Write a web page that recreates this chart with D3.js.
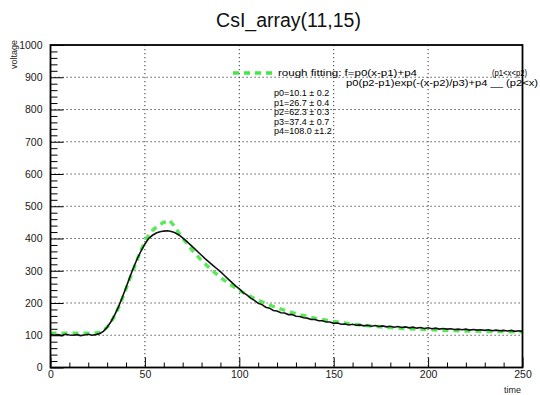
<!DOCTYPE html>
<html><head><meta charset="utf-8">
<script src="https://cdn.jsdelivr.net/npm/d3@7/dist/d3.min.js"></script>
<style>
html,body{margin:0;padding:0;background:#fff;}
svg{display:block;font-family:"Liberation Sans",Arial,Helvetica,sans-serif;}
</style></head>
<body><svg id="c" width="540" height="395"></svg>
<script>
// ---- data ----
const sampleTimes = [0,2,4,6,8,10,12,14,16,18,20,22,24,26,28,30,32,34,36,38,40,42,44,46,48,50,52,54,56,58,60,62,64,66,68,70,72,74,76,78,80,82,84,86,88,90,92,94,96,98,100,102,104,106,108,110,112,114,116,118,120,122,124,126,128,130,132,134,136,138,140,142,144,146,148,150,152,154,156,158,160,162,164,166,168,170,172,174,176,178,180,182,184,186,188,190,192,194,196,198,200,202,204,206,208,210,212,214,216,218,220,222,224,226,228,230,232,234,236,238,240,242,244,246,248,250];
const voltageValues = [103,100,102,99,103,101,100,102,99,101,103,100,102,105,112,125,142,163,188,217,248,280,310,338,362,383,400,410,417,421,423,424,422,418,411,402,392,381,370,359,348,337,327,317,307,297,286,275,264,253,244,232,225,215,208,199,195,187,184,177,175,170,169,164,164,159,158,154,153,149,149,145,145,141,141,137,138,134,135,132,134,131,132,129,131,128,130,127,129,126,128,125,127,124,126,123,125,122,124,121,123,120,122,119,121,119,120,118,119,117,119,116,118,116,117,115,117,114,116,114,115,113,115,112,114,112];
const fitTimes = [0,10,20,24,27,30,33,36,39,42,45,48,51,54,57,60,63,65,70,75,80,85,90,95,100,105,110,115,120,130,140,150,160,170,180,190,200,210,220,230,240,250];
const fitValues = [106,106,106,107,110,125,150,185,228,275,320,365,402,425,440,450,457,442.5,400.7,364.1,332.0,304.0,279.5,258.0,239.2,222.8,208.4,195.9,184.9,166.8,153.0,142.5,134.4,128.2,123.5,119.8,117.1,114.9,113.3,112.1,111.1,110.4];
const xMajorTicks = [0,50,100,150,200,250];
const yMajorTicks = [0,100,200,300,400,500,600,700,800,900,1000];
const titleText = "CsI_array(11,15)";
const xTitle = "time", yTitle = "voltage";
const legendLine1 = "rough fitting: f=p0(x-p1)+p4";
const legendLine1b = "(p1<x<p2)";
const legendLine2 = "p0(p2-p1)exp(-(x-p2)/p3)+p4 __ (p2<x)";
const paramLines = ["p0=10.1 \u00b1 0.2","p1=26.7 \u00b1 0.4","p2=62.3 \u00b1 0.3","p3=37.4 \u00b1 0.7","p4=108.0 \u00b11.2"];

// ---- layout ----
const L=50.5, R=522.5, T=45, B=367.5;
const svg = d3.select("#c");
const x = d3.scaleLinear().domain([0,250]).range([L,R]);
const y = d3.scaleLinear().domain([0,1000]).range([B,T]);
const xMinor = d3.range(0,251,10).filter(v=>!xMajorTicks.includes(v));
const yMinor = d3.range(0,1001,20).filter(v=>!yMajorTicks.includes(v));

// grid
const grid = svg.append("g").attr("stroke","#333").attr("stroke-width",1).attr("stroke-dasharray","1.2,2.8");
xMajorTicks.filter(v=>v>0&&v<250).forEach(v=>grid.append("line").attr("x1",x(v)).attr("x2",x(v)).attr("y1",T).attr("y2",B));
yMajorTicks.filter(v=>v>0&&v<1000).forEach(v=>grid.append("line").attr("x1",L).attr("x2",R).attr("y1",y(v)).attr("y2",y(v)));

// curves
svg.append("clipPath").attr("id","pc").append("rect").attr("x",L).attr("y",T).attr("width",R-L).attr("height",B-T);
const fitLine = d3.line().x((d,i)=>x(fitTimes[i])).y(d=>y(d));
svg.append("path").attr("clip-path","url(#pc)").attr("d",fitLine(fitValues)).attr("fill","none")
  .attr("stroke","#44e844").attr("stroke-width",3.4).attr("stroke-dasharray","6,5").attr("opacity",0.9);
const dataLine = d3.line().x((d,i)=>x(sampleTimes[i])).y(d=>y(d));
svg.append("path").attr("clip-path","url(#pc)").attr("d",dataLine(voltageValues)).attr("fill","none")
  .attr("stroke","#111").attr("stroke-width",1.6);

// axes
const fs = 10.5;
const gy = svg.append("g").attr("transform",`translate(${L},0)`)
  .call(d3.axisLeft(y).tickValues(yMajorTicks).tickSize(-13).tickPadding(8).tickFormat(d3.format("d")));
const gyMinor = svg.append("g").attr("transform",`translate(${L},0)`)
  .call(d3.axisLeft(y).tickValues(yMinor).tickSize(-7).tickFormat(""));
const gx = svg.append("g").attr("transform",`translate(0,${B})`)
  .call(d3.axisBottom(x).tickValues(xMajorTicks).tickSize(-10).tickPadding(3.5).tickFormat(d3.format("d")));
const gxMinor = svg.append("g").attr("transform",`translate(0,${B})`)
  .call(d3.axisBottom(x).tickValues(xMinor).tickSize(-5).tickFormat(""));
[gy,gyMinor,gx,gxMinor].forEach(g=>{
  g.select(".domain").remove();
  g.selectAll(".tick line").attr("stroke","#000").attr("stroke-width",1);
  g.selectAll("text").attr("font-size",fs).attr("fill","#1a1a1a").attr("font-family","Liberation Sans, Arial, sans-serif");
});

// frame
svg.append("rect").attr("x",L).attr("y",T).attr("width",R-L).attr("height",B-T)
  .attr("fill","none").attr("stroke","#000").attr("stroke-width",1.8);

// titles
svg.append("text").attr("x",288.5).attr("y",27).attr("text-anchor","middle").attr("font-size",19.5).attr("fill","#111").text(titleText);
svg.append("text").attr("x",521).attr("y",393).attr("text-anchor","end").attr("font-size",9).attr("fill","#222").text(xTitle);
svg.append("text").attr("transform","translate(17,40) rotate(-90)").attr("text-anchor","end").attr("font-size",9).attr("fill","#222").text(yTitle);

// legend
svg.append("line").attr("x1",233).attr("x2",273).attr("y1",73).attr("y2",73)
  .attr("stroke","#44e844").attr("stroke-width",3.4).attr("stroke-dasharray","6,5");
svg.append("text").attr("x",278).attr("y",75.5).attr("font-size",9).attr("fill","#000")
  .attr("textLength",139).attr("lengthAdjust","spacingAndGlyphs").text(legendLine1);
svg.append("text").attr("x",492).attr("y",75.5).attr("font-size",9).attr("fill","#000")
  .attr("textLength",35).attr("lengthAdjust","spacingAndGlyphs").text(legendLine1b);
svg.append("text").attr("x",346).attr("y",85.5).attr("font-size",9).attr("fill","#000")
  .attr("textLength",192).attr("lengthAdjust","spacingAndGlyphs").text(legendLine2);
const pb=[96,105.5,115,124.5,133.5];
paramLines.forEach((s,i)=>svg.append("text").attr("x",274).attr("y",pb[i]).attr("font-size",9).attr("fill","#000").text(s));
</script></body></html>
